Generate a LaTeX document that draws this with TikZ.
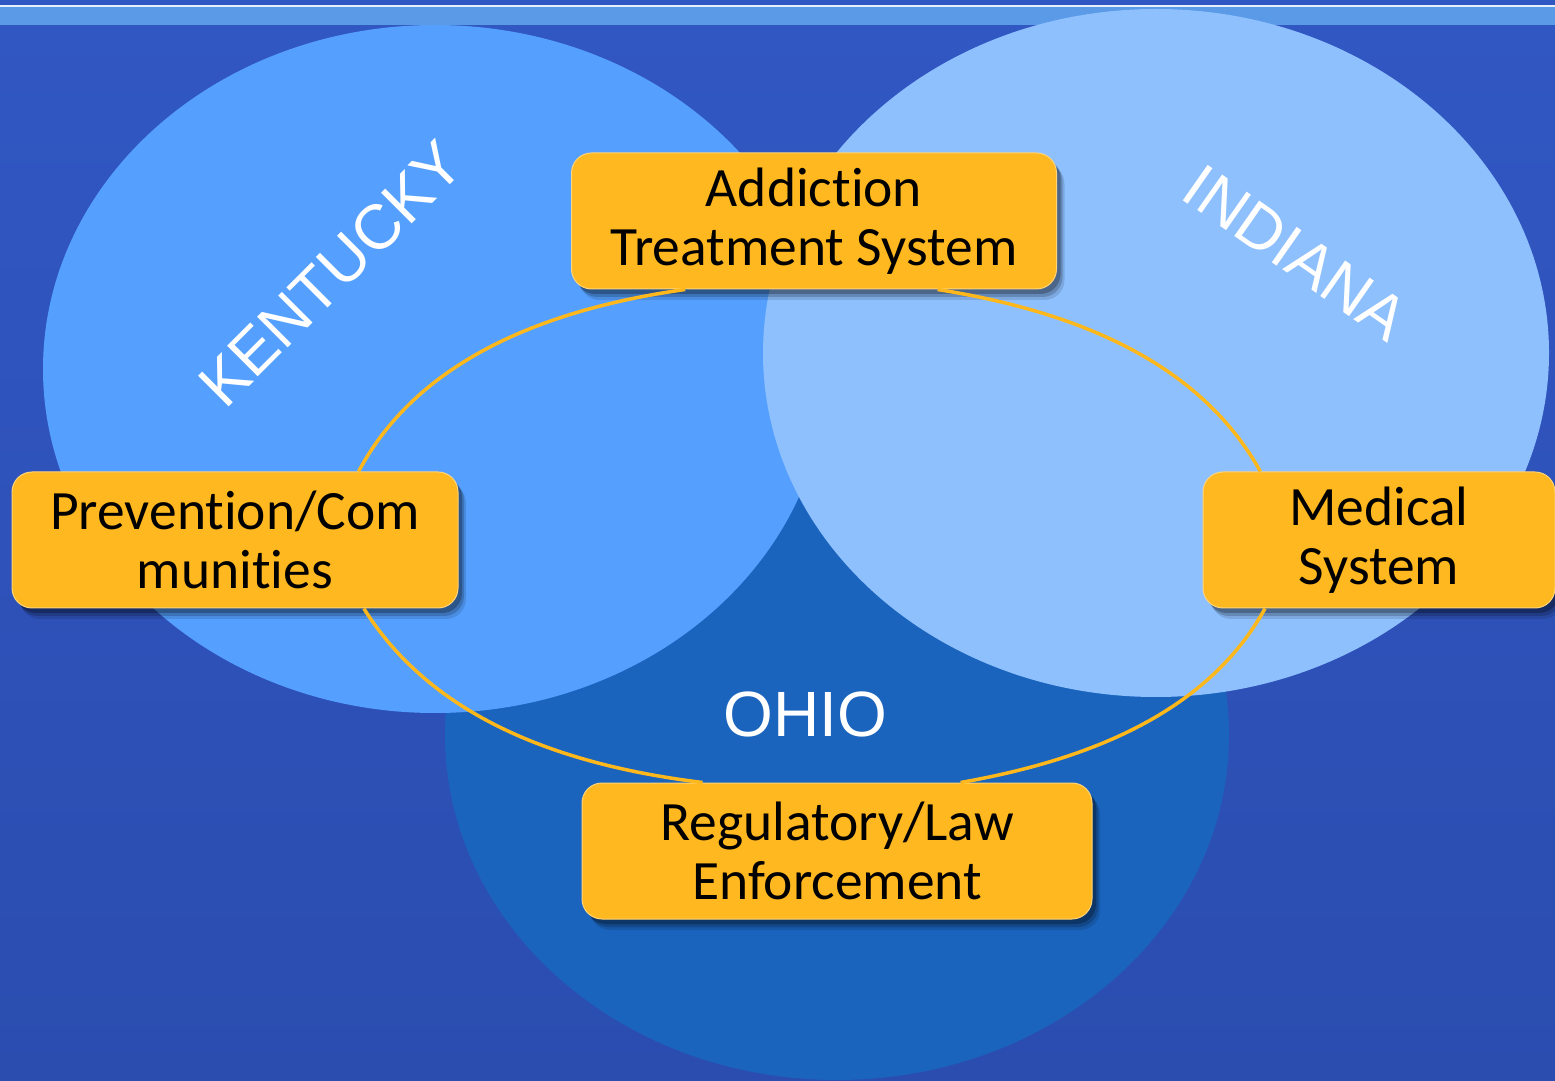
\documentclass[tikz,border=0pt]{standalone}
\usepackage{fontspec}
\usepackage{tikz}
\usetikzlibrary{shadows}
\setmainfont{Carlito}[Ligatures=NoCommon]
\newfontfamily\statefont{Liberation Sans}

\definecolor{bgblue}{HTML}{2B4DB0}
\definecolor{bgtop}{HTML}{3157C3}
\definecolor{bandblue}{HTML}{5A9AE6}
\definecolor{kycol}{HTML}{55A0FF}
\definecolor{incol}{HTML}{8EC0FE}
\definecolor{ohcol}{HTML}{1A64BE}
\definecolor{boxcol}{HTML}{FFB81F}
\definecolor{ringcol}{HTML}{FFB81C}

\begin{document}
\begin{tikzpicture}[x=1pt, y=1pt,
	box/.style={shape=rectangle, rounded corners=20pt, fill=boxcol, draw=boxcol!60!white, line width=1pt, align=center, inner sep=0pt, minimum height=136pt, font=\fontsize{55.5}{59}\selectfont,
		drop shadow={shadow xshift=8pt, shadow yshift=-11pt, opacity=0.12, fill=black},
		drop shadow={shadow xshift=6pt, shadow yshift=-8pt, opacity=0.18, fill=black},
		drop shadow={shadow xshift=4pt, shadow yshift=-5pt, opacity=0.25, fill=black}},
	ring/.style={-, draw=ringcol, line width=3.5pt},
	statelabel/.style={text=white, inner sep=0pt, font=\statefont\fontsize{63}{63}\selectfont}]
	
	\useasboundingbox (0, 0) rectangle (1555, 1080);
	\shade[top color=bgtop, bottom color=bgblue] (0, 0) rectangle (1555, 1080);
	\fill[bandblue] (0, 1055) rectangle (1555, 1073);
	\fill[white!85!bandblue] (0, 1073) rectangle (1555, 1075);
	
	\fill[ohcol] (837, 345) ellipse [x radius=392, y radius=345];
	\fill[kycol] (435, 711) ellipse [x radius=392, y radius=344];
	\fill[incol] (1156, 727) ellipse [x radius=393, y radius=344];
	
	\node[statelabel, rotate=45]  (ky) at (331, 806)  {KENTUCKY};
	\node[statelabel, rotate=-35] (in) at (1296, 827) {INDIANA};
	\node[statelabel, font=\statefont\fontsize{64}{64}\selectfont] (oh) at (805, 366) {OHIO};
	
	\node[box, minimum width=485pt] (addict)  at (814, 859)  {Addiction\\Treatment System};
	\node[box, minimum width=446pt] (prevent) at (235, 540)  {Prevention/Com\\munities};
	\node[box, minimum width=352pt] (medical) at (1379, 540) {Medical\\System};
	\node[box, minimum width=510pt] (regul)   at (837, 229)  {Regulatory/Law\\Enforcement};
	
	\path[ring] (addict.208) edge[out=188, in=62, looseness=0.9]  (prevent.29);
	\path[ring] (prevent.-28) edge[out=-58, in=173, looseness=0.9] (regul.153);
	\path[ring] (regul.29) edge[out=10, in=241, looseness=0.9]     (medical.211);
	\path[ring] (medical.150) edge[out=119, in=-9, looseness=0.9]  (addict.331);
	
	\end{tikzpicture}
\end{document}
